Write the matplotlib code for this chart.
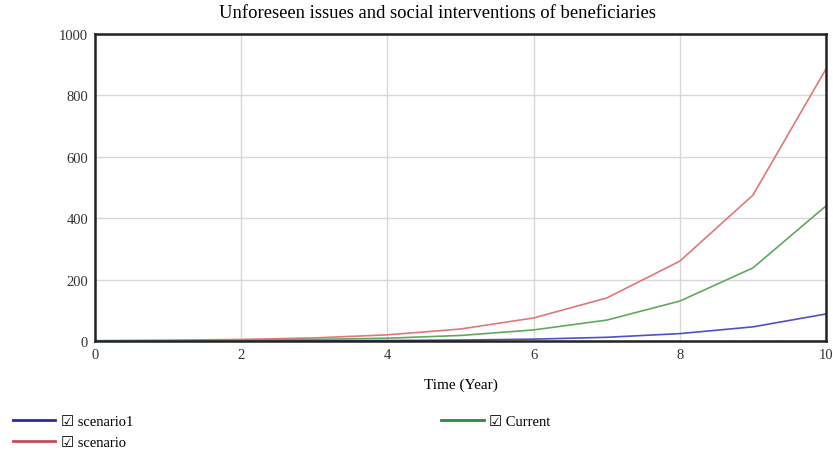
import matplotlib.pyplot as plt
import numpy as np

# datos
years = [0, 1, 2, 3, 4, 5, 6, 7, 8, 9, 10]
scenario1 = [0.1, 0.2, 0.4, 0.8, 1.5, 3, 6, 12, 24, 46, 88]
scenario = [1, 2.5, 5, 10, 20, 39, 75, 140, 260, 475, 886]
current = [0.6, 1.2, 2.5, 5, 9, 18, 36, 68, 130, 238, 440]

plt.rcParams['font.family'] = ['Liberation Serif', 'DejaVu Sans']

fig = plt.figure(figsize=(8.33, 4.52), dpi=100)
ax = fig.add_axes([0.114, 0.2434, 0.8776, 0.6792])

l1, = ax.plot(years, scenario1, color='#5050c8', lw=1.2)
l2, = ax.plot(years, scenario, color='#e07878', lw=1.2)
l3, = ax.plot(years, current, color='#60a860', lw=1.2)

ax.set_xlim(0, 10)
ax.set_ylim(0, 1000)
ax.set_xticks([0, 2, 4, 6, 8, 10])
ax.set_yticks([0, 200, 400, 600, 800, 1000])
ax.grid(True, color='#d8d8d8', lw=1)
ax.tick_params(length=0, labelsize=10.5, colors='#333333', pad=5)
for s in ax.spines.values():
    s.set_color('#222222')
    s.set_linewidth(1.8)

# titulo (algo desplazado a la izquierda en el original)
fig.text(0.5246, 0.971, 'Unforeseen issues and social interventions of beneficiaries',
         fontsize=13.4, ha='center', va='center')
ax.set_xlabel('Time (Year)', fontsize=11, labelpad=12)

leg1 = fig.legend([l1, l2], ['\u2611 scenario1', '\u2611 scenario'], loc='upper left',
                  bbox_to_anchor=(0.0, 0.11), frameon=False, handlelength=2.9,
                  fontsize=10.5, labelspacing=0.55, handletextpad=0.4)
for h, c in zip(leg1.get_lines(), ['#2a2aa0', '#c84a55']):
    h.set_linewidth(2)
    h.set_color(c)
leg2 = fig.legend([l3], ['\u2611 Current'], loc='upper left',
                  bbox_to_anchor=(0.514, 0.11), frameon=False, handlelength=2.9,
                  fontsize=10.5, handletextpad=0.4)
for h in leg2.get_lines():
    h.set_linewidth(2)
    h.set_color('#2e8a3a')

fig.savefig('out.png', dpi=100)
